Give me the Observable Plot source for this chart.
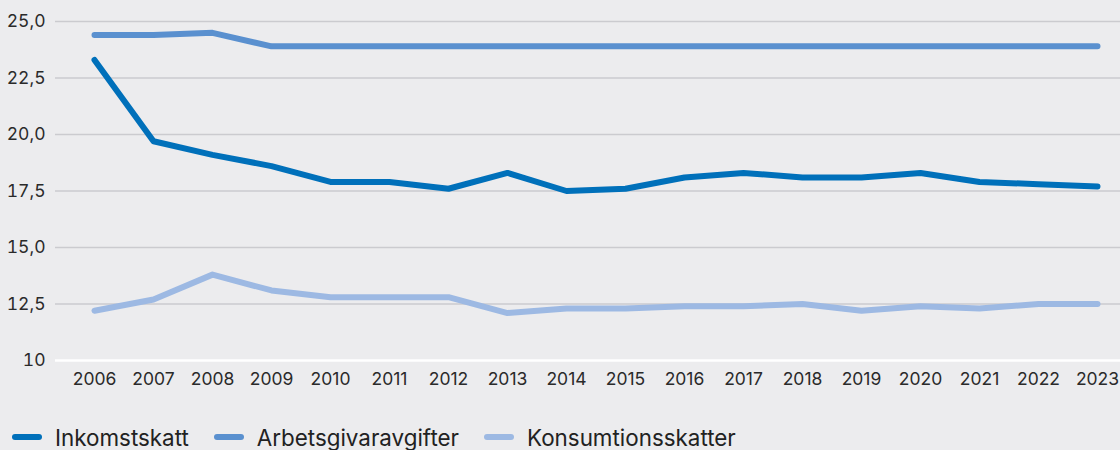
<!DOCTYPE html>
<html>
<head>
<meta charset="utf-8">
<script src="https://cdn.jsdelivr.net/npm/d3@7"></script>
<script src="https://cdn.jsdelivr.net/npm/@observablehq/plot@0.6"></script>
<style>
  html, body { margin: 0; padding: 0; background: #ECECEE; }
  body { width: 1120px; height: 450px; overflow: hidden; font-family: Inter, Roboto, "Noto Sans", sans-serif; }
  #legend { display: flex; align-items: center; height: 26px; margin-top: 24px; padding-left: 12px; color: #222; font-size: 22.4px; }
  .item { display: flex; align-items: center; margin-right: 25px; }
  .sw { width: 30px; height: 6px; border-radius: 3px; margin-right: 13px; }
</style>
</head>
<body>
<div id="chart"></div>
<div id="legend"></div>
<script>
const years = [2006,2007,2008,2009,2010,2011,2012,2013,2014,2015,2016,2017,2018,2019,2020,2021,2022,2023];
const seriesNames = ["Inkomstskatt", "Arbetsgivaravgifter", "Konsumtionsskatter"];
const seriesColors = ["#0070BA", "#5A90CF", "#9DB9E3"];
const inkomstskatt = [23.3,19.7,19.1,18.6,17.9,17.9,17.6,18.3,17.5,17.6,18.1,18.3,18.1,18.1,18.3,17.9,17.8,17.7];
const arbetsgivaravgifter = [24.4,24.4,24.5,23.9,23.9,23.9,23.9,23.9,23.9,23.9,23.9,23.9,23.9,23.9,23.9,23.9,23.9,23.9];
const konsumtionsskatter = [12.2,12.7,13.8,13.1,12.8,12.8,12.8,12.1,12.3,12.3,12.4,12.4,12.5,12.2,12.4,12.3,12.5,12.5];
const yTicks = [10, 12.5, 15, 17.5, 20, 22.5, 25];
const yTickLabels = ["10", "12,5", "15,0", "17,5", "20,0", "22,5", "25,0"];

const seriesValues = [inkomstskatt, arbetsgivaravgifter, konsumtionsskatter];
const data = [];
seriesNames.forEach((name, i) => {
  years.forEach((yr, j) => data.push({year: yr, value: seriesValues[i][j], series: name}));
});
const drawOrder = ["Arbetsgivaravgifter", "Inkomstskatt", "Konsumtionsskatter"];
const ordered = drawOrder.flatMap(n => data.filter(d => d.series === n));

const chart = Plot.plot({
  width: 1120,
  height: 400,
  marginTop: 21,
  marginBottom: 40,
  marginLeft: 55,
  marginRight: 0,
  style: { background: "transparent", fontFamily: "Inter, Roboto, sans-serif", fontSize: "17.5px", color: "#2a2a2a", overflow: "visible" },
  x: { type: "point", domain: years, insetLeft: 37, insetRight: 21, padding: 0 },
  y: { domain: [10, 25] },
  color: { domain: seriesNames, range: seriesColors },
  marks: [
    Plot.ruleY(yTicks.filter(t => t !== 10), { stroke: "#CBCBCF", strokeWidth: 1.5 }),
    Plot.ruleY([10], { stroke: "#FFFFFF", strokeWidth: 2.5 }),
    Plot.axisY({ ticks: yTicks, tickSize: 0, tickPadding: 10, tickFormat: d => yTickLabels[yTicks.indexOf(d)], label: null, fill: "#2a2a2a" }),
    Plot.axisX({ ticks: years, tickSize: 0, tickPadding: 12, tickFormat: d => String(d), label: null, fill: "#2a2a2a" }),
    Plot.line(ordered, { x: "year", y: "value", z: "series", stroke: "series", strokeWidth: 6, strokeLinecap: "round", strokeLinejoin: "round" })
  ]
});
document.getElementById("chart").appendChild(chart);

const legend = document.getElementById("legend");
seriesNames.forEach((n, i) => {
  const it = document.createElement("div");
  it.className = "item";
  const sw = document.createElement("span");
  sw.className = "sw";
  sw.style.background = seriesColors[i];
  const tx = document.createElement("span");
  tx.textContent = n;
  it.appendChild(sw); it.appendChild(tx);
  legend.appendChild(it);
});
</script>
</body>
</html>
